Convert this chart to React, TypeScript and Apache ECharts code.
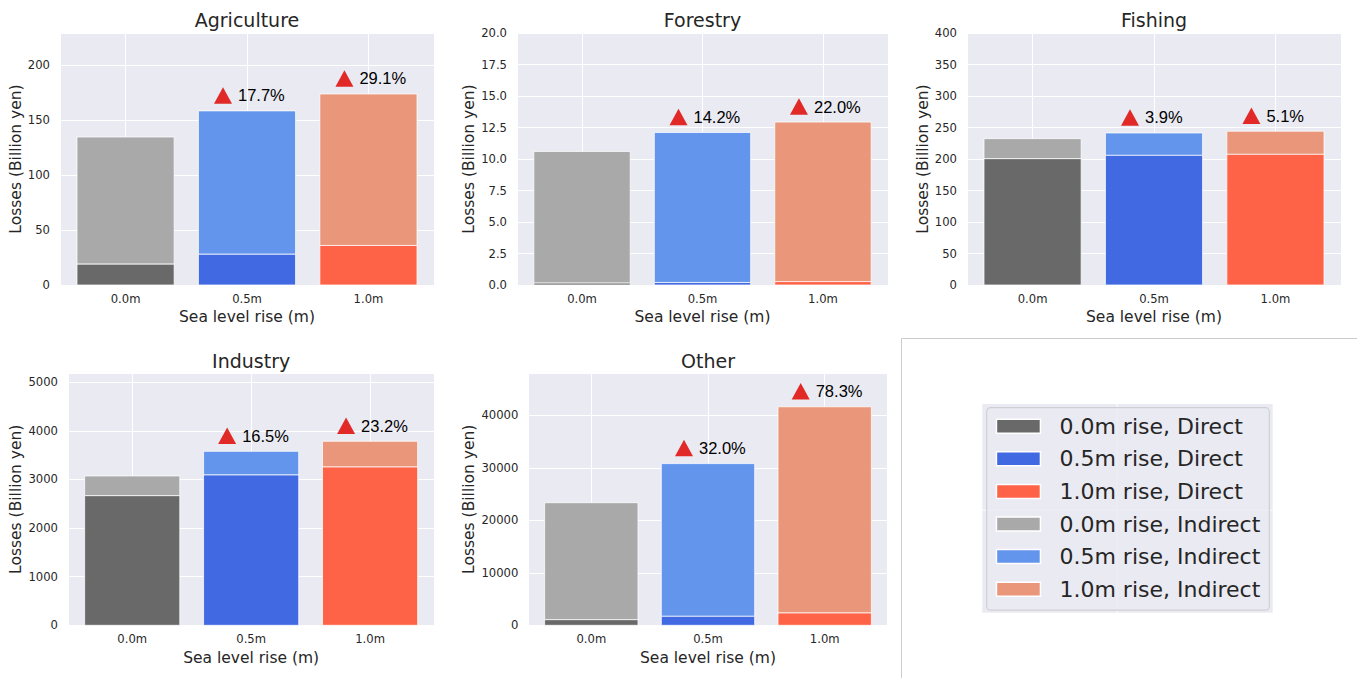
import React, { useEffect, useRef } from "react";
import * as echarts from "echarts";

// ---------- data ----------
const categories = ["0.0m", "0.5m", "1.0m"];
const legendNames = [
  "0.0m rise, Direct",
  "0.5m rise, Direct",
  "1.0m rise, Direct",
  "0.0m rise, Indirect",
  "0.5m rise, Indirect",
  "1.0m rise, Indirect",
];

const agricultureDirect = [19, 28, 36];
const agricultureIndirect = [115.7, 130.5, 137.9];
const agriculturePct = ["17.7%", "29.1%"];

const forestryDirect = [0.15, 0.2, 0.27];
const forestryIndirect = [10.45, 11.9, 12.66];
const forestryPct = ["14.2%", "22.0%"];

const fishingDirect = [200.5, 205.8, 207.4];
const fishingIndirect = [31.8, 35.5, 36.7];
const fishingPct = ["3.9%", "5.1%"];

const industryDirect = [2667, 3093, 3257];
const industryIndirect = [406, 487, 529];
const industryPct = ["16.5%", "23.2%"];

const otherDirect = [1067, 1714, 2343];
const otherIndirect = [22283, 29086, 39277];
const otherPct = ["32.0%", "78.3%"];

const yMaxes = [229.4, 20, 400, 5185, 48000];
const yTickSteps = [50, 2.5, 50, 1000, 10000];
const yTickDigits = [0, 1, 0, 0, 0];

// ---------- styles / layout ----------
const directColors = ["#696969", "#4169E1", "#FF6347"];
const indirectColors = ["#A9A9A9", "#6495ED", "#E9967A"];
const TEXT = "#262626";
const BG = "#EAEAF2";
const BAR_EDGE = "rgba(255,255,255,0.75)";
const BAR_FRACTION = 0.8;

const gridBoxes = [
  { left: 60, top: 33, width: 374, height: 252 },
  { left: 517, top: 33, width: 371, height: 252 },
  { left: 967, top: 33, width: 374, height: 252 },
  { left: 68, top: 373.3, width: 366.3, height: 252 },
  { left: 528.3, top: 373.3, width: 359.4, height: 252 },
];
const titleY = [20, 20, 20, 360.7, 360.7];
const xNameY = [317.3, 317.3, 317.3, 657.9, 657.9];
const yNameX = [15.7, 468.6, 922.6, 15.7, 468.6];

const panels = [
  { title: "Agriculture", direct: agricultureDirect, indirect: agricultureIndirect, pct: agriculturePct },
  { title: "Forestry", direct: forestryDirect, indirect: forestryIndirect, pct: forestryPct },
  { title: "Fishing", direct: fishingDirect, indirect: fishingIndirect, pct: fishingPct },
  { title: "Industry", direct: industryDirect, indirect: industryIndirect, pct: industryPct },
  { title: "Other", direct: otherDirect, indirect: otherIndirect, pct: otherPct },
];

function isMultiple(v: number, step: number) {
  const r = v / step;
  return Math.abs(r - Math.round(r)) < 1e-6;
}

function stackedBars(params: any, api: any) {
  const x = api.value(0);
  const d = api.value(1);
  const ind = api.value(2);
  const i = params.dataIndex;
  const w = api.size([BAR_FRACTION, 0])[0];
  const p0 = api.coord([x, 0]);
  const p1 = api.coord([x, d]);
  const p2 = api.coord([x, d + ind]);
  const left = p0[0] - w / 2;
  return {
    type: "group",
    children: [
      {
        type: "rect",
        shape: { x: left, y: p2[1], width: w, height: p1[1] - p2[1] },
        style: { fill: indirectColors[i], stroke: BAR_EDGE, lineWidth: 1 },
      },
      {
        type: "rect",
        shape: { x: left, y: p1[1], width: w, height: p0[1] - p1[1] },
        style: { fill: directColors[i], stroke: BAR_EDGE, lineWidth: 1 },
      },
    ],
  };
}

function buildOption() {
  const grid: any[] = [];
  const xAxis: any[] = [];
  const yAxis: any[] = [];
  const series: any[] = [];
  const graphic: any[] = [];

  panels.forEach((panel, p) => {
    const g = gridBoxes[p];
    grid.push({ ...g, show: true, backgroundColor: BG, borderWidth: 0, containLabel: false });
    xAxis.push({
      type: "value",
      gridIndex: p,
      min: -0.54,
      max: 2.54,
      splitNumber: 3,
      minInterval: 1,
      maxInterval: 1,
      axisLine: { show: false },
      axisTick: { show: false },
      axisLabel: {
        margin: 8,
        fontSize: 11.6,
        color: TEXT,
        formatter: (v: number) => {
          const i = Math.round(v);
          return Math.abs(v - i) < 1e-6 && categories[i] !== undefined ? categories[i] : "";
        },
      },
      splitLine: { show: true, lineStyle: { color: "#ffffff", width: 1 } },
    });
    const step = yTickSteps[p];
    const digits = yTickDigits[p];
    yAxis.push({
      type: "value",
      gridIndex: p,
      min: 0,
      max: yMaxes[p],
      interval: step,
      axisLine: { show: false },
      axisTick: { show: false },
      axisLabel: {
        margin: 10,
        fontSize: 11.6,
        color: TEXT,
        formatter: (v: number) => (isMultiple(v, step) ? v.toFixed(digits) : ""),
      },
      splitLine: { show: true, lineStyle: { color: "#ffffff", width: 1 } },
    });

    series.push({
      type: "custom",
      name: panel.title + " losses",
      xAxisIndex: p,
      yAxisIndex: p,
      silent: true,
      encode: { x: 0, y: 1 },
      renderItem: stackedBars,
      data: panel.direct.map((d, i) => [i, d, panel.indirect[i]]),
      z: 2,
    });
    series.push({
      type: "scatter",
      xAxisIndex: p,
      yAxisIndex: p,
      symbol: "triangle",
      symbolSize: [18, 16.5],
      symbolOffset: [-24, -15.5],
      silent: true,
      z: 5,
      itemStyle: { color: "#E12A27", opacity: 1 },
      label: {
        show: true,
        position: "right",
        distance: 6,
        color: "#000000",
        opacity: 1,
        fontSize: 16.5,
        fontFamily: "Liberation Sans",
        formatter: (q: any) => panel.pct[q.dataIndex],
      },
      data: [1, 2].map((i) => [i, panel.direct[i] + panel.indirect[i]]),
    });

    const cx = g.left + g.width / 2;
    const cy = g.top + g.height / 2;
    graphic.push({
      type: "text",
      x: cx,
      y: titleY[p],
      silent: true,
      style: { text: panel.title, fill: TEXT, fontSize: 19, fontFamily: "DejaVu Sans", align: "center", verticalAlign: "middle" },
    });
    graphic.push({
      type: "text",
      x: cx,
      y: xNameY[p],
      silent: true,
      style: { text: "Sea level rise (m)", fill: TEXT, fontSize: 15.5, fontFamily: "DejaVu Sans", align: "center", verticalAlign: "middle" },
    });
    graphic.push({
      type: "text",
      x: yNameX[p],
      y: cy,
      rotation: Math.PI / 2,
      silent: true,
      style: { text: "Losses (Billion yen)", fill: TEXT, fontSize: 15.5, fontFamily: "DejaVu Sans", align: "center", verticalAlign: "middle" },
    });
  });

  // legend-only entries (no data)
  legendNames.forEach((name, k) => {
    series.push({
      type: "bar",
      name,
      xAxisIndex: 0,
      yAxisIndex: 0,
      stack: "legendOnly",
      itemStyle: { color: k < 3 ? directColors[k] : indirectColors[k - 3], borderColor: BAR_EDGE, borderWidth: 1 },
      data: [],
    });
  });

  // empty sixth panel frame and legend backdrop
  graphic.push({
    type: "rect",
    silent: true,
    z: -1,
    shape: { x: 901.5, y: 338.5, width: 700, height: 500 },
    style: { fill: "none", stroke: "#CCCCCC", lineWidth: 1 },
  });
  graphic.push({
    type: "rect",
    silent: true,
    z: 0,
    shape: { x: 982.3, y: 404, width: 290.4, height: 208.7 },
    style: { fill: BG },
  });
  graphic.push({
    type: "line",
    silent: true,
    z: 0,
    shape: { x1: 1117, y1: 404, x2: 1117, y2: 612.7 },
    style: { stroke: "#ffffff", lineWidth: 1 },
  });
  graphic.push({
    type: "line",
    silent: true,
    z: 0,
    shape: { x1: 982.3, y1: 510.3, x2: 1272.7, y2: 510.3 },
    style: { stroke: "#ffffff", lineWidth: 1 },
  });

  return {
    animation: false,
    textStyle: { fontFamily: "DejaVu Sans" },
    grid,
    xAxis,
    yAxis,
    series,
    graphic,
    legend: {
      data: legendNames,
      orient: "vertical",
      left: 986.7,
      top: 407.7,
      icon: "rect",
      itemWidth: 44,
      itemHeight: 14,
      itemGap: 10.6,
      padding: [7.5, 9, 10, 9],
      backgroundColor: "rgba(234,234,242,0.85)",
      borderColor: "#CFCFD4",
      borderWidth: 1.2,
      borderRadius: 4,
      selectedMode: false,
      z: 10,
      itemStyle: { borderColor: "#ffffff", borderWidth: 1.5 },
      textStyle: { fontSize: 22, color: TEXT, fontFamily: "DejaVu Sans", padding: [0, 0, 0, 14] },
    },
  };
}

export default function App() {
  const ref = useRef<HTMLDivElement>(null);
  useEffect(() => {
    if (!ref.current) return;
    const chart = echarts.init(ref.current, null, { renderer: "svg" });
    chart.setOption(buildOption() as any);
    return () => chart.dispose();
  }, []);
  return (
    <div
      ref={ref}
      style={{ position: "fixed", left: 0, top: 0, width: 1357, height: 678, background: "#ffffff" }}
    />
  );
}
